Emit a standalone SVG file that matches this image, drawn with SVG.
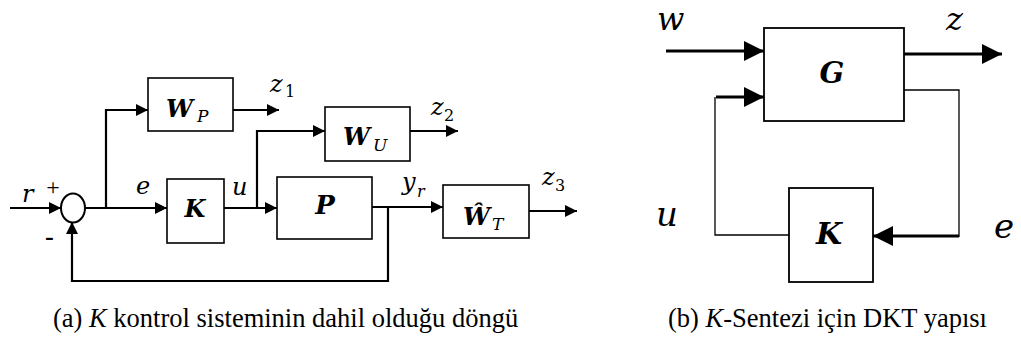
<svg xmlns="http://www.w3.org/2000/svg" width="1021" height="343" viewBox="0 0 1021 343">
<style>
.box{fill:#fff;stroke:#000;stroke-width:1.6}
.bbox{fill:#fff;stroke:#000;stroke-width:1.8}
.ln{fill:none;stroke:#000;stroke-width:2.2}
.thk{fill:none;stroke:#000;stroke-width:3}
.thn{fill:none;stroke:#000;stroke-width:1.3}
.mi{font-family:"DejaVu Serif",serif;font-style:italic;fill:#000}
.mb{font-family:"DejaVu Serif",serif;font-style:italic;font-weight:bold;fill:#000}
.up{font-family:"DejaVu Serif",serif;fill:#000}
.cap{font-family:"Liberation Serif","Times New Roman",serif;font-size:26.5px;fill:#000}
</style>
<defs>
<marker id="aS" markerUnits="userSpaceOnUse" markerWidth="12" markerHeight="12" refX="12" refY="6" orient="auto"><path d="M0,0L12,6L0,12z" fill="#000"/></marker>
<marker id="aL" markerUnits="userSpaceOnUse" markerWidth="20" markerHeight="20" refX="20" refY="10" orient="auto"><path d="M0,0L20,10L0,20z" fill="#000"/></marker>
</defs>
<rect width="1021" height="343" fill="#fff"/>

<g id="connectors">
<path class="ln" d="M10,208H61" marker-end="url(#aS)"/>
<path class="ln" d="M85,208H167" marker-end="url(#aS)"/>
<path class="ln" d="M106,208V110H148" marker-end="url(#aS)"/>
<path class="ln" d="M233,110H279" marker-end="url(#aS)"/>
<path class="ln" d="M224,208H277" marker-end="url(#aS)"/>
<path class="ln" d="M257,208V131H325" marker-end="url(#aS)"/>
<path class="ln" d="M410,131H458" marker-end="url(#aS)"/>
<path class="ln" d="M372,207H443" marker-end="url(#aS)"/>
<path class="ln" d="M388,207V281H72V222" marker-end="url(#aS)"/>
<path class="ln" d="M529,211H577" marker-end="url(#aS)"/>

<path class="thk" d="M666,51H764" marker-end="url(#aL)"/>
<path class="thk" d="M904,54H1002" marker-end="url(#aL)"/>
<path class="thk" d="M716,97H764" marker-end="url(#aL)"/>
<path class="thn" d="M715,97V235H789"/>
<path class="thn" d="M904,90H959V237"/>
<path class="thk" d="M959,236H873" marker-end="url(#aL)"/>
</g>

<g id="sum">
<ellipse cx="73" cy="208" rx="12" ry="14.5" fill="#fff" stroke="#000" stroke-width="2"/>
<text class="mi" x="22" y="202" font-size="24">r</text>
<text x="53" y="195" font-size="24" text-anchor="middle" font-family="Liberation Serif,serif">+</text>
<text x="49.5" y="246" font-size="28" text-anchor="middle" font-family="Liberation Sans,sans-serif">-</text>
</g>

<g id="labels-left">
<text class="mi" x="136" y="194" font-size="24">e</text>
<text class="mi" x="232" y="195" font-size="24">u</text>
<text class="mi" x="270" y="92" font-size="24">z</text><text class="up" x="285" y="97" font-size="16">1</text>
<text class="mi" x="431" y="115" font-size="24">z</text><text class="up" x="444" y="121" font-size="16">2</text>
<text class="mi" x="542" y="185" font-size="24">z</text><text class="up" x="555" y="191" font-size="16">3</text>
<text class="mi" x="402" y="190" font-size="24">y</text><text class="mi" x="417" y="197" font-size="16">r</text>
</g>

<g id="WP">
<rect class="box" x="148" y="78" width="85" height="53"/>
<text class="mb" x="166" y="117" font-size="24">W</text><text class="mi" x="197" y="122" font-size="17">P</text>
</g>

<g id="K1">
<rect class="box" x="167" y="179" width="57" height="64"/>
<text class="mb" x="195" y="217" font-size="24" text-anchor="middle">K</text>
</g>

<g id="WU">
<rect class="box" x="325" y="107" width="85" height="54"/>
<text class="mb" x="343" y="145" font-size="24">W</text><text class="mi" x="373" y="151" font-size="17">U</text>
</g>

<g id="P">
<rect class="box" x="277" y="177" width="95" height="62"/>
<text class="mb" x="325" y="214" font-size="26" text-anchor="middle">P</text>
</g>

<g id="WT">
<rect class="box" x="443" y="185" width="86" height="53"/>
<text class="mb" x="463" y="225" font-size="24">Ŵ</text><text class="mi" x="492" y="230" font-size="17">T</text>
</g>

<g id="G">
<rect class="bbox" x="764" y="28" width="140" height="93"/>
<text class="mb" x="832" y="83" font-size="29" text-anchor="middle">G</text>
</g>

<g id="K2">
<rect class="bbox" x="789" y="188" width="84" height="94"/>
<text class="mb" x="829" y="244" font-size="30" text-anchor="middle">K</text>
</g>

<g id="labels-right">
<text class="mi" x="657" y="30" font-size="32">w</text>
<text class="mi" x="946" y="30" font-size="32">z</text>
<text class="mi" x="656" y="226" font-size="34">u</text>
<text class="mi" x="994" y="238" font-size="34">e</text>
</g>

<g id="captions">
<text class="cap" x="53" y="327">(a) <tspan font-style="italic">K</tspan> kontrol sisteminin dahil olduğu döngü</text>
<text class="cap" x="987" y="327" text-anchor="end">(b) <tspan font-style="italic">K</tspan>-Sentezi için DKT yapısı</text>
</g>
</svg>
